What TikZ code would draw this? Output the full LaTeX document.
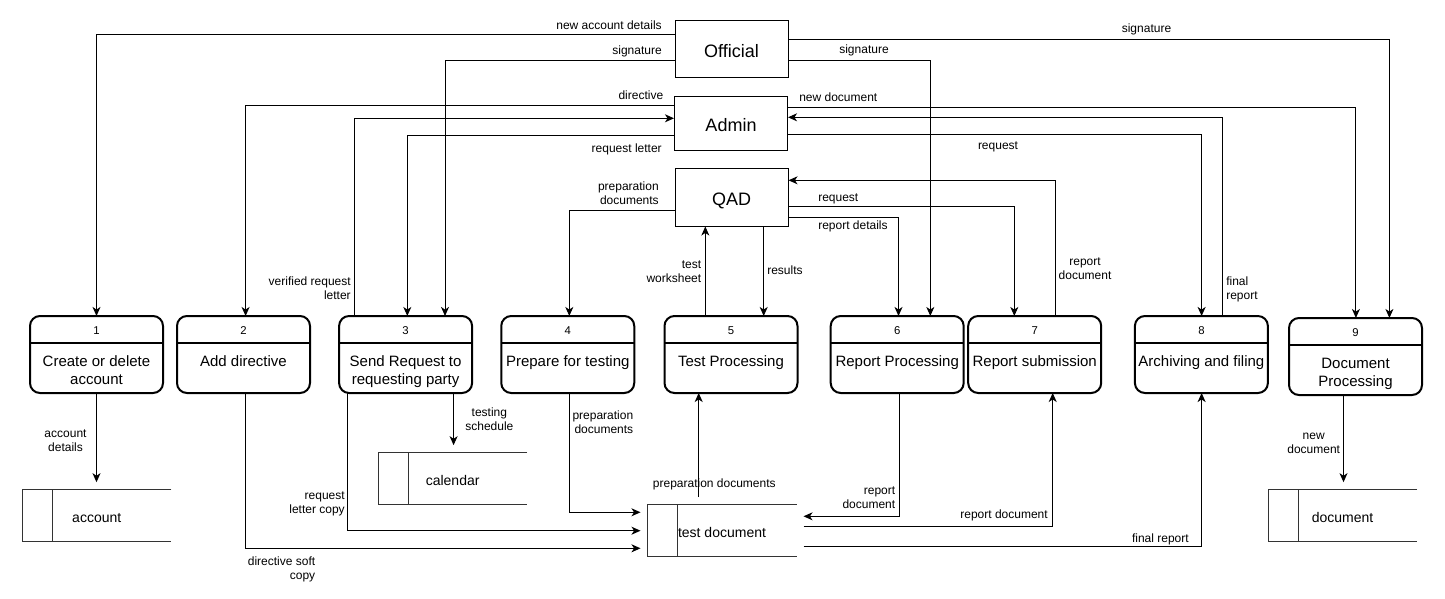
\documentclass[tikz,border=0pt]{standalone}
\usepackage{fontspec}
\setmainfont{Liberation Sans}
\usetikzlibrary{arrows.meta}
\tikzset{
 x=0.75pt,y=-0.75pt,
 arr/.style={draw, line width=0.75pt, -{Stealth[length=6.8pt,width=6pt,inset=2pt]}},
 ent/.style={draw, line width=0.75pt, minimum width=84.75pt, minimum height=42.75pt, inner sep=0, text height=12pt, text depth=0pt, font=\fontsize{13.5}{16}\selectfont},
 proc/.style={draw, line width=1.5pt, rounded corners=7.5pt, minimum width=99.75pt, minimum height=57.75pt, inner sep=0, outer sep=0},
 procline/.style={line width=1.5pt},
 pnum/.style={inner sep=0, font=\fontsize{8.5}{10}\selectfont},
 ptext/.style={inner sep=0, align=center, font=\fontsize{11.25}{13.5}\selectfont},
 store/.style={inner sep=0, outer sep=0, minimum width=111.75pt, minimum height=39pt, text height=10.7pt, text depth=0pt, font=\fontsize{10.5}{12.6}\selectfont},
 storeline/.style={line width=0.75pt, draw=black!80},
 lbl/.style={inner sep=0, font=\fontsize{9}{10.5}\selectfont},
 tost/.style={shorten >=5.25pt},
 fromst/.style={shorten <=5.25pt},
}
\newcommand\dfdproc[6]{%
 \node[proc] (#1) at (#2,#3) {};
 \draw[procline] ([yshift=-20.25pt]#1.north west) -- ([yshift=-20.25pt]#1.north east);
 \node[pnum] (#1n) at ([yshift=-11pt]#1.north) {#4};
 \node[ptext, anchor=north] (#1t) at ([yshift=-28.5pt]#1.north) {\strut #5};
}
\newcommand\dfdstore[4]{%
 \node[store] (#1) at (#2,#3) {#4};
 \draw[storeline] (#1.north east) -- (#1.north west) -- (#1.south west) -- (#1.south east);
 \draw[storeline] ([xshift=22.5pt]#1.north west) -- ([xshift=22.5pt]#1.south west);
}
\begin{document}
\begin{tikzpicture}
\fill[white] (0,0) rectangle (1445,599);
\useasboundingbox (0,0) rectangle (1445,599);

% external entities
\node[ent] (off) at (731.5,49.5) {Official};
\node[ent, minimum height=40.5pt] (adm) at (731,124) {Admin};
\node[ent] (qad) at (731.5,197.5) {QAD};

% processes
\dfdproc{p1}{96.5}{354.5}{1}{Create or delete\\account}{}
\dfdproc{p2}{243.5}{354.5}{2}{Add directive}{}
\dfdproc{p3}{405.6}{354.5}{3}{Send Request to\\requesting party}{}
\dfdproc{p4}{567.75}{354.5}{4}{Prepare for testing}{}
\dfdproc{p5}{731}{354.5}{5}{Test Processing}{}
\dfdproc{p6}{897.2}{354.5}{6}{Report Processing}{}
\dfdproc{p7}{1034.7}{354.5}{7}{Report submission}{}
\dfdproc{p8}{1201.4}{354.5}{8}{Archiving and filing}{}
\dfdproc{p9}{1355.5}{356.5}{9}{Document\\Processing}{}

% data stores
\dfdstore{acc}{96.75}{515.2}{account}
\dfdstore{cal}{452.65}{478.2}{calendar}
\dfdstore{td}{722}{530.2}{test document}
\dfdstore{doc}{1342.6}{515.2}{document}

% connectors from Official
\draw[arr] (off.west |- 0,35) -| (p1.north);
\draw[arr] (off.west |- 0,61) -| (p3.north -| 445,0);
\draw[arr] (off.east |- 0,60.3) -| (p6.north -| 930.3,0);
\draw[arr] (off.east |- 0,39.3) -| (p9.north -| 1389.4,0);
% Admin
\draw[arr] (adm.west |- 0,105.3) -| (p2.north -| 245.6,0);
\draw[arr] (p3.north -| 354.5,0) |- (adm.west |- 0,118.3);
\draw[arr] (adm.west |- 0,136) -| (p3.north -| 407.3,0);
\draw[arr] (adm.east |- 0,107.3) -| (p9.north -| 1355.9,0);
\draw[arr] (p8.north -| 1222.7,0) |- (adm.east |- 0,117.3);
\draw[arr] (adm.east |- 0,134.3) -| (p8.north -| 1201.6,0);
% QAD
\draw[arr] (qad.west |- 0,210.7) -| (p4.north -| 569.3,0);
\draw[arr] (p5.north -| 705.3,0) -- (qad.south -| 705.3,0);
\draw[arr] (qad.south -| 763.7,0) -- (p5.north -| 763.7,0);
\draw[arr] (p7.north -| 1055.2,0) |- (qad.east |- 0,180.3);
\draw[arr] (qad.east |- 0,206.7) -| (p7.north -| 1014.3,0);
\draw[arr] (qad.east |- 0,217.3) -| (p6.north -| 898.5,0);
% lower flows
\draw[arr,tost] (p1.south) -- (p1.south |- acc.north);
\draw[arr,tost] (p2.south -| 245.6,0) |- (td.west |- 0,548.3);
\draw[arr,tost] (p3.south -| 347.6,0) |- (td.west |- 0,530.7);
\draw[arr,tost] (p3.south -| 453.6,0) -- (cal.north -| 453.6,0);
\draw[arr,tost] (p4.south -| 569.3,0) |- (td.west |- 0,512.3);
\draw[arr,fromst] (td.north -| 698.7,0) -- (p5.south -| 698.7,0);
\draw[arr,tost] (p6.south -| 899.7,0) |- (td.east |- 0,516.3);
\draw[arr,fromst] (td.east |- 0,526) -| (p7.south -| 1052.7,0);
\draw[arr,fromst] (td.east |- 0,546) -| (p8.south -| 1201.6,0);
\draw[arr,tost] (p9.south -| 1343.5,0) -- (doc.north -| 1343.5,0);

% labels
\node[lbl, anchor=east] (l1) at (662,25) {new account details};
\node[lbl, anchor=east] (l2) at (662,51) {signature};
\node[lbl] (l3) at (864,50) {signature};
\node[lbl] (l4) at (1146.5,29) {signature};
\node[lbl, anchor=east] (l5) at (663.5,95) {directive};
\node[lbl, anchor=east, align=right] (l6) at (351,290) {\strut verified request\\letter\strut};
\node[lbl, anchor=east] (l7) at (662,149) {request letter};
\node[lbl, anchor=west] (l8) at (799,97) {new document};
\node[lbl, anchor=west, align=left] (l9) at (1226,290) {\strut final\\report\strut};
\node[lbl] (l10) at (998,147) {request};
\node[lbl, anchor=east, align=right] (l11) at (659,194.5) {\strut preparation\\documents\strut};
\node[lbl, anchor=east, align=right] (l12) at (701.5,273) {\strut test\\worksheet\strut};
\node[lbl, anchor=west] (l13) at (767,270.7) {results};
\node[lbl, align=center] (l14) at (1085,269.5) {\strut report\\document\strut};
\node[lbl, anchor=west] (l15) at (818,199) {request};
\node[lbl, anchor=west] (l16) at (818,226) {report details};
\node[lbl, align=center] (l17) at (65.5,442) {\strut account\\details\strut};
\node[lbl, anchor=east, align=right] (l18) at (315.5,569.7) {\strut directive soft\\copy\strut};
\node[lbl, anchor=east, align=right] (l19) at (345,503.7) {\strut request\\letter copy\strut};
\node[lbl, align=center] (l20) at (489.4,420.5) {\strut testing\\schedule\strut};
\node[lbl, anchor=east, align=right] (l21) at (633.5,424) {\strut preparation\\documents\strut};
\node[lbl] (l22) at (714.3,484) {preparation documents};
\node[lbl, anchor=east, align=right] (l23) at (895.5,498.3) {\strut report\\document\strut};
\node[lbl, anchor=east] (l24) at (1048,515) {report document};
\node[lbl, anchor=east] (l25) at (1189,539) {final report};
\node[lbl, align=center] (l26) at (1313.7,443.7) {\strut new\\document\strut};
\end{tikzpicture}
\end{document}
